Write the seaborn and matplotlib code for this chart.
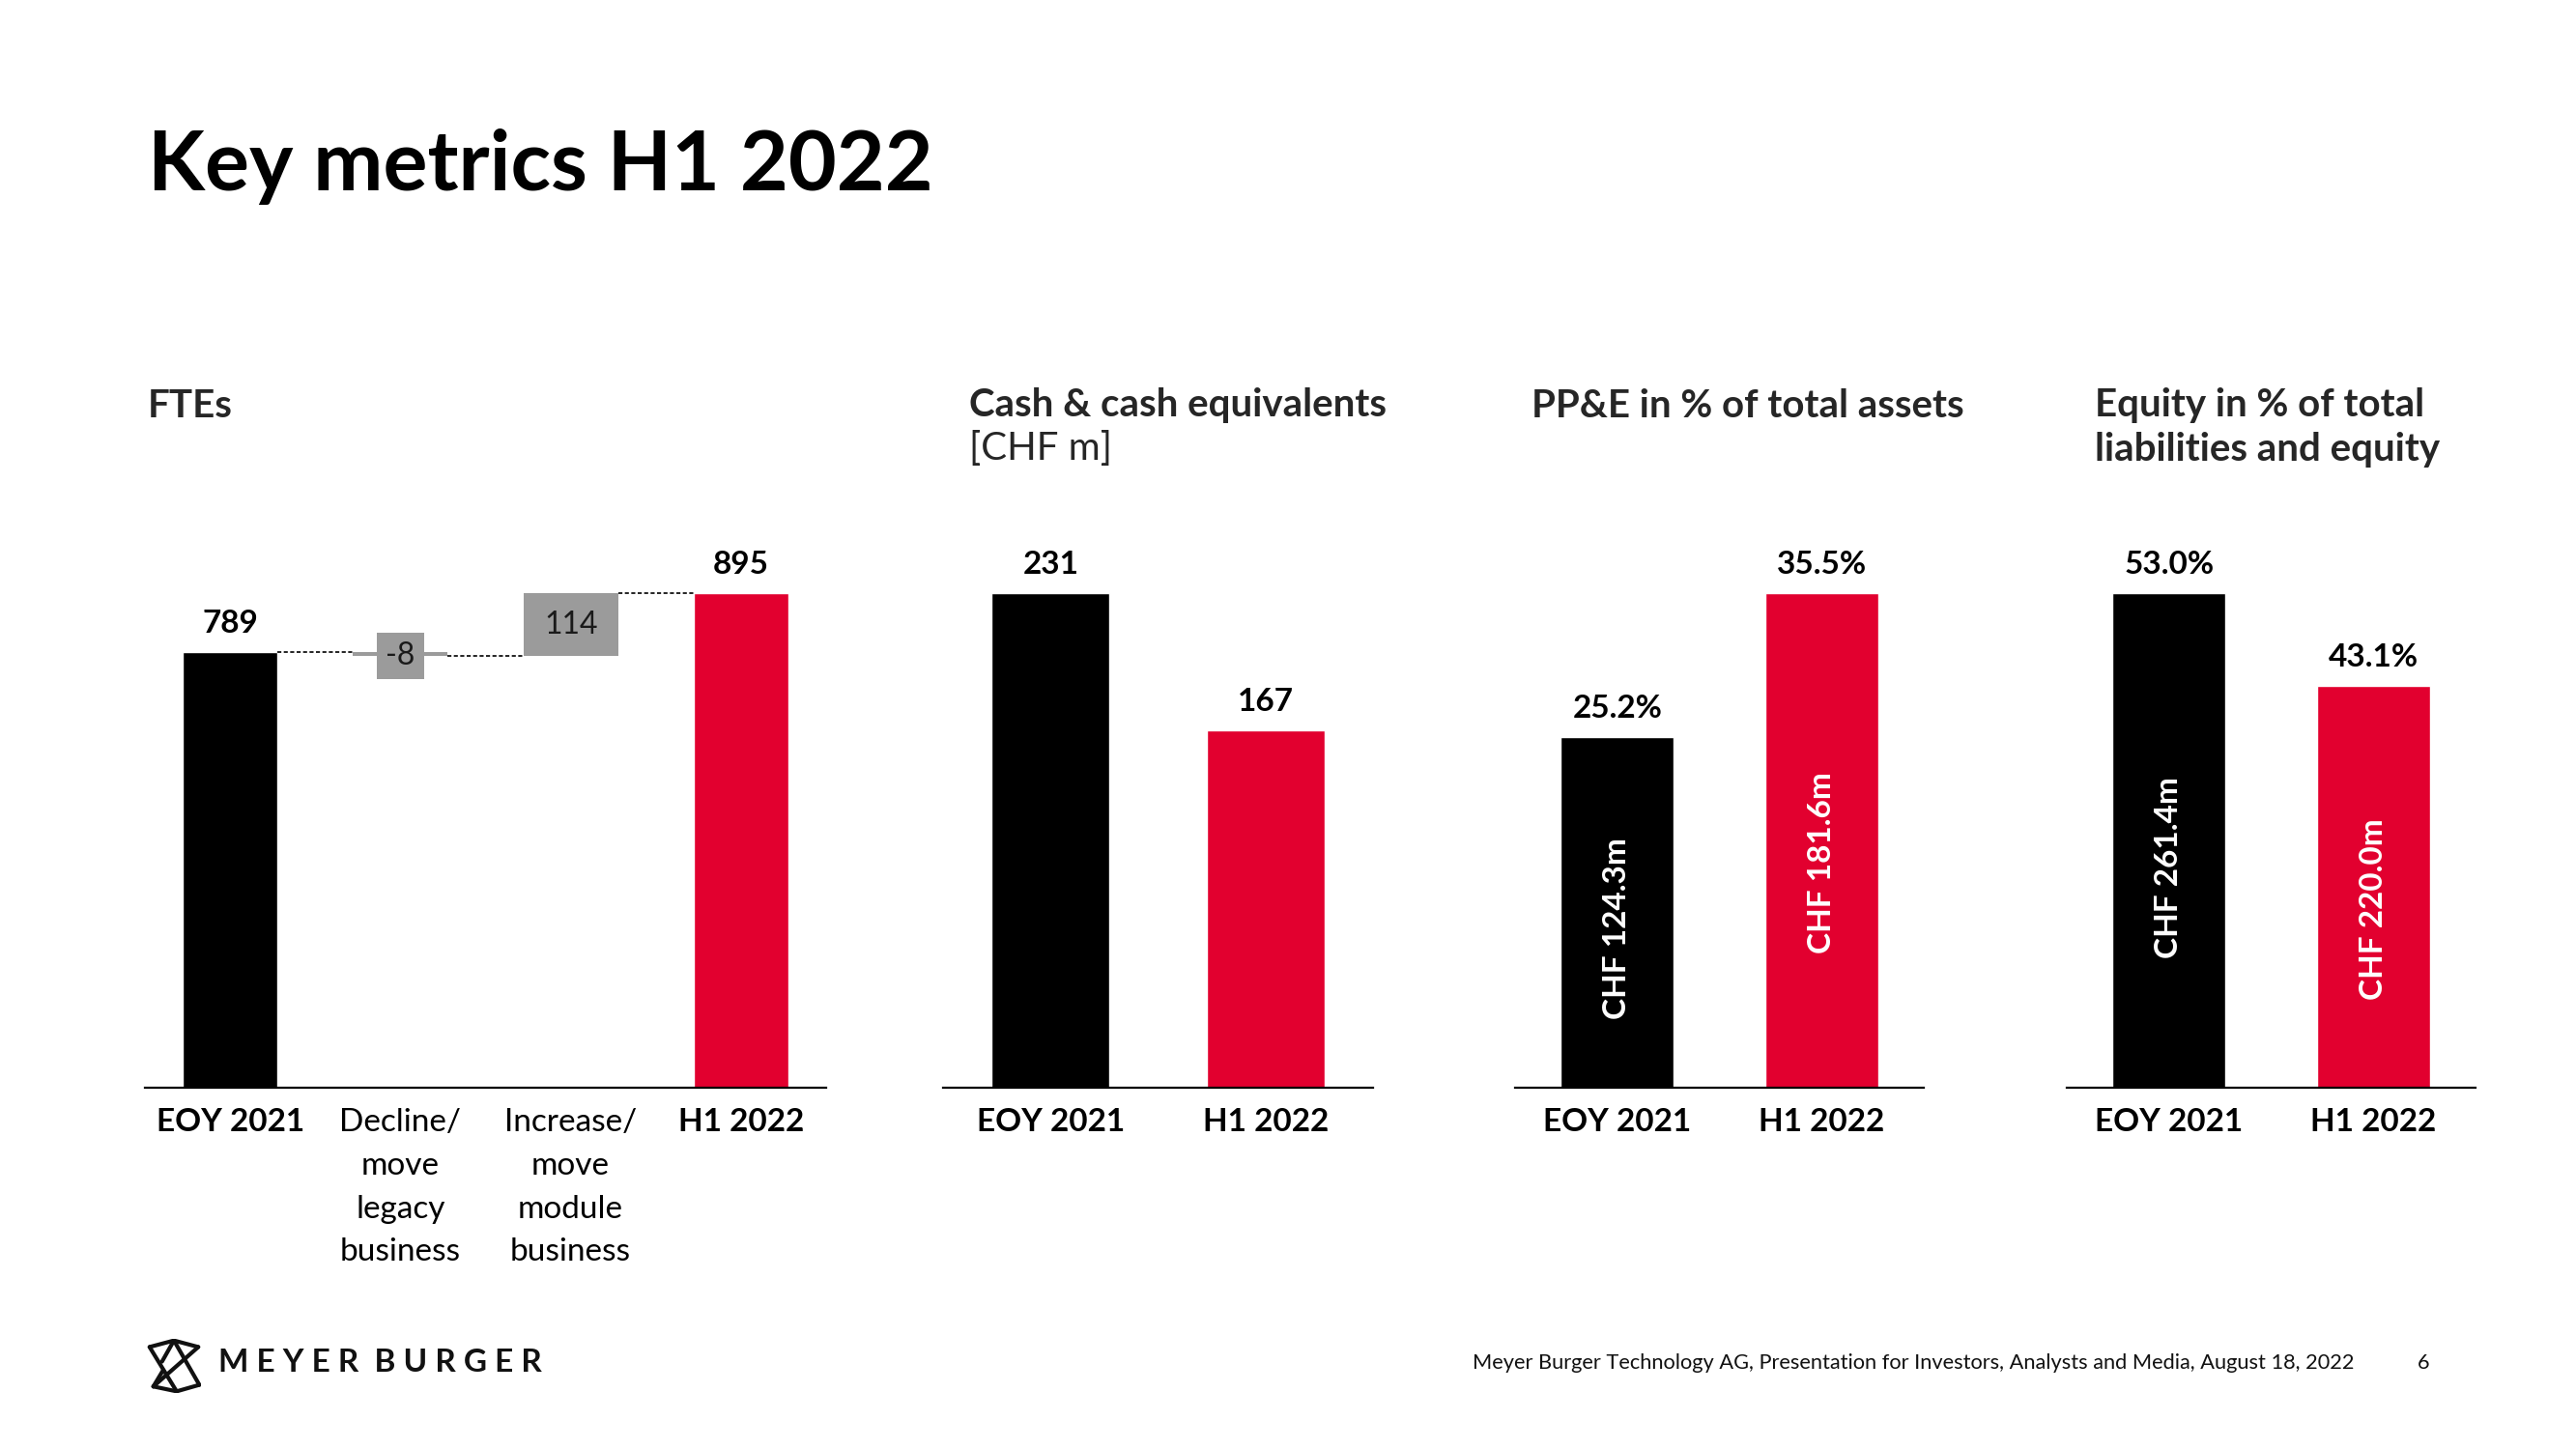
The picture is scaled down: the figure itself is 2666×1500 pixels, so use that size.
import numpy as np
import matplotlib
matplotlib.use("Agg")
import matplotlib.pyplot as plt
import seaborn as sns

# ---------------- data ----------------
fte_labels = ["EOY 2021", "Decline/\nmove\nlegacy\nbusiness",
              "Increase/\nmove\nmodule\nbusiness", "H1 2022"]
fte_start = 789
fte_changes = [-8, 114]
fte_end = 895

cash_labels = ["EOY 2021", "H1 2022"]
cash_values = [231, 167]

ppe_labels = ["EOY 2021", "H1 2022"]
ppe_pct = [25.2, 35.5]
ppe_chf = [124.3, 181.6]

eq_labels = ["EOY 2021", "H1 2022"]
eq_pct = [53.0, 43.1]
eq_chf = [261.4, 220.0]

BLACK = "#000000"
RED = "#E2002F"
GRAY = "#9B9B9B"

# ---------------- setup ----------------
sns.set_theme(style="white")
plt.rcParams['font.family'] = ['Lato', 'DejaVu Sans']

W, H = 2666, 1500
fig = plt.figure(figsize=(W / 100, H / 100), dpi=100)
fig.patch.set_facecolor('white')

BASE = 1126   # pixel row of baseline
AXH = 600     # axes height in px
FULL = 512    # px height of the tallest bar


def make_ax(x0, x1):
    ax = fig.add_axes([x0 / W, (H - BASE) / H, (x1 - x0) / W, AXH / H])
    ax.set_facecolor('none')
    return ax


def style_ax(ax, vmax, ncat, labels, bold_idx):
    ax.set_ylim(0, vmax * AXH / FULL)
    ax.set_xlim(-0.5, ncat - 0.5)
    for s in ['top', 'right', 'left']:
        ax.spines[s].set_visible(False)
    ax.spines['bottom'].set_color('black')
    ax.spines['bottom'].set_linewidth(1.6)
    ax.set_yticks([])
    ax.set_ylabel('')
    ax.set_xlabel('')
    ax.set_xticks(range(ncat))
    ax.set_xticklabels(labels)
    ax.tick_params(axis='x', length=0, pad=15, labelsize=24, colors='black')
    for i, t in enumerate(ax.get_xticklabels()):
        t.set_linespacing(1.62)
        t.set_fontweight('bold' if i in bold_idx else 'normal')
        t.set_verticalalignment('top')


def top_label(ax, x, y, s):
    ax.annotate(s, (x, y), xytext=(0, 21), textcoords='offset points',
                ha='center', va='center', fontsize=24, fontweight='bold',
                color='black')


# ---------------- Panel 1 : FTE waterfall ----------------
w1 = 0.556
ax1 = make_ax(150, 855)
sns.barplot(x=[fte_labels[0], fte_labels[3]], y=[fte_start, fte_end],
            order=fte_labels, hue=[fte_labels[0], fte_labels[3]],
            palette=[BLACK, RED], saturation=1, width=w1, legend=False,
            ax=ax1)
levels = np.cumsum([fte_start] + fte_changes)
bottoms = [min(levels[i], levels[i + 1]) for i in range(len(fte_changes))]
heights = [abs(c) for c in fte_changes]
pos = np.arange(1, 1 + len(fte_changes))
ax1.bar(pos, heights, bottom=bottoms, width=w1, color=GRAY, linewidth=0)
# connectors
for j in range(3):
    lvl = levels[j] if j < len(levels) else fte_end
    ax1.plot([j + w1 / 2, j + 1 - w1 / 2], [lvl, lvl], color='black',
             lw=1.2, ls=(0, (2.5, 1.5)))
# labels
top_label(ax1, 0, fte_start, f"{fte_start}")
top_label(ax1, 3, fte_end, f"{fte_end}")
for p, b, h, c in zip(pos, bottoms, heights, fte_changes):
    if h < 30:
        ax1.text(p, b + h / 2 - 4, f"{c}", ha='center', va='center',
                 fontsize=23, fontweight='normal', color='#1a1a1a',
                 bbox=dict(boxstyle='square,pad=0.28', fc=GRAY, ec='none'))
    else:
        ax1.text(p, b + h / 2, f"{c}", ha='center', va='center',
                 fontsize=23, fontweight='normal', color='#1a1a1a')
style_ax(ax1, fte_end, 4, fte_labels, bold_idx=[0, 3])

# ---------------- Panel 2 : Cash ----------------
ax2 = make_ax(976, 1421)
sns.barplot(x=cash_labels, y=cash_values, hue=cash_labels,
            palette=[BLACK, RED], saturation=1, width=0.547, legend=False,
            ax=ax2)
for i, v in enumerate(cash_values):
    top_label(ax2, i, v, f"{v}")
style_ax(ax2, max(cash_values), 2, cash_labels, bold_idx=[0, 1])

# ---------------- Panel 3 : PP&E ----------------
ax3 = make_ax(1568, 1991)
sns.barplot(x=ppe_labels, y=ppe_pct, hue=ppe_labels,
            palette=[BLACK, RED], saturation=1, width=0.555, legend=False,
            ax=ax3)
for i, (v, c) in enumerate(zip(ppe_pct, ppe_chf)):
    top_label(ax3, i, v, f"{v:.1f}%")
    ax3.text(i, v * 0.455, f"CHF {c:.1f}m", rotation=90, ha='center',
             va='center', fontsize=24, fontweight='bold', color='white')
style_ax(ax3, max(ppe_pct), 2, ppe_labels, bold_idx=[0, 1])

# ---------------- Panel 4 : Equity ----------------
ax4 = make_ax(2139, 2562)
sns.barplot(x=eq_labels, y=eq_pct, hue=eq_labels,
            palette=[BLACK, RED], saturation=1, width=0.555, legend=False,
            ax=ax4)
for i, (v, c) in enumerate(zip(eq_pct, eq_chf)):
    top_label(ax4, i, v, f"{v:.1f}%")
    ax4.text(i, v * 0.445, f"CHF {c:.1f}m", rotation=90, ha='center',
             va='center', fontsize=24, fontweight='bold', color='white')
style_ax(ax4, max(eq_pct), 2, eq_labels, bold_idx=[0, 1])

# ---------------- Texts ----------------
def ftext(xpx, ypx, s, **kw):
    fig.text(xpx / W, 1 - ypx / H, s, **kw)

ftext(153, 172, "Key metrics H1 2022", fontsize=62, fontweight='bold',
      ha='left', va='center', color='black')

TS = 29
ftext(153, 420, "FTEs", fontsize=TS, fontweight='bold', ha='left', va='center')
ftext(1003, 420, "Cash & cash equivalents", fontsize=TS, fontweight='bold',
      ha='left', va='center')
ftext(1003, 465, "[CHF m]", fontsize=TS, fontweight='normal', ha='left',
      va='center')
ftext(1585, 420, "PP&E in % of total assets", fontsize=TS, fontweight='bold',
      ha='left', va='center')
ftext(2168, 420, "Equity in % of total", fontsize=TS, fontweight='bold',
      ha='left', va='center')
ftext(2168, 465, "liabilities and equity", fontsize=TS, fontweight='bold',
      ha='left', va='center')

# footer
ftext(2437, 1411, "Meyer Burger Technology AG, Presentation for Investors, "
      "Analysts and Media, August 18, 2022", fontsize=15.7, fontweight='normal',
      ha='right', va='center', color='#111111')
ftext(2508, 1411, "6", fontsize=15.7, fontweight='normal', ha='center',
      va='center', color='#111111')

# logo text
ftext(226, 1411, "M E Y E R  B U R G E R", fontsize=24, fontweight='bold',
      ha='left', va='center', color='#111111')

# logo icon
lax = fig.add_axes([152 / W, 1 - 1442 / H, 56 / W, 56 / H])
lax.set_xlim(0, 1)
lax.set_ylim(0, 1)
lax.axis('off')
segs = [
    [(0.05, 0.85), (0.5, 0.97), (0.95, 0.85)],
    [(0.05, 0.85), (0.55, 0.03)],
    [(0.95, 0.85), (0.12, 0.12)],
    [(0.12, 0.12), (0.55, 0.03), (0.97, 0.15)],
    [(0.5, 0.97), (0.97, 0.15)],
    [(0.5, 0.97), (0.28, 0.58)],
    [(0.12, 0.12), (0.3, 0.42)],
]
for s in segs:
    xs, ys = zip(*s)
    lax.plot(xs, ys, color='#111111', lw=3, solid_capstyle='round',
             solid_joinstyle='miter')

fig.savefig("out.png", dpi=100, facecolor='white')
